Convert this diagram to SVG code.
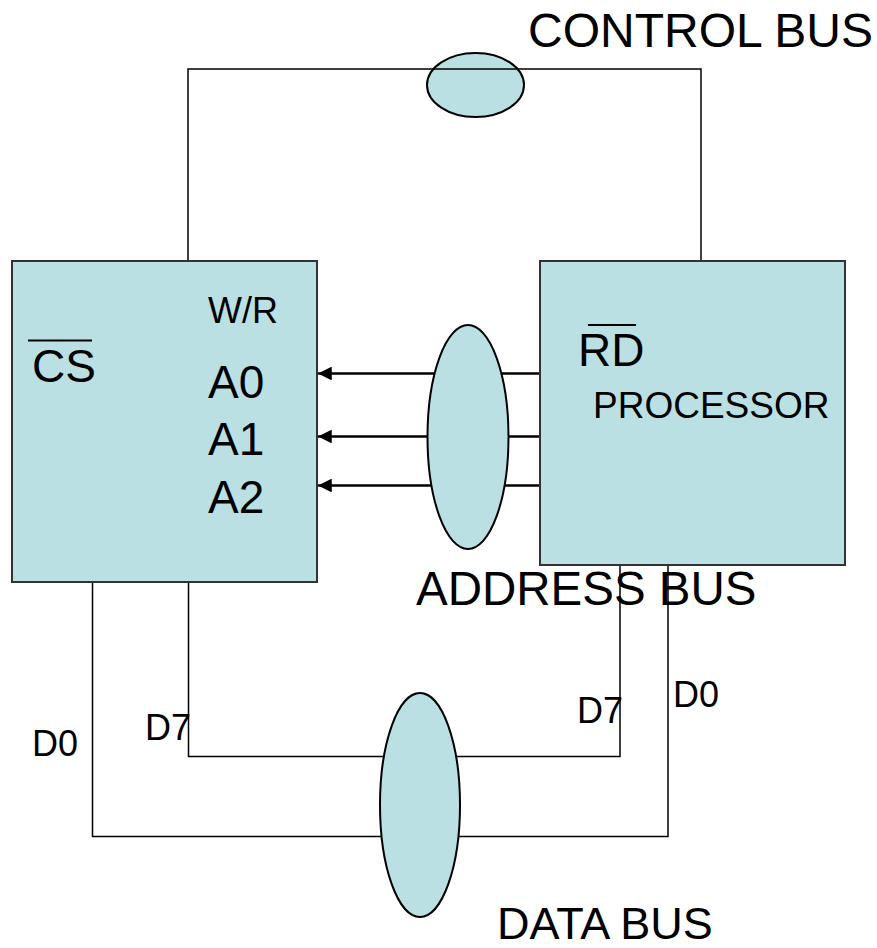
<svg xmlns="http://www.w3.org/2000/svg" width="877" height="948" viewBox="0 0 877 948">
<defs>
<style>
.box{fill:#BBE0E3;stroke:#333;stroke-width:2}
.bus{fill:#BBE0E3;stroke:#000;stroke-width:2}
.wire{fill:none;stroke:#000;stroke-width:1.5}
.addr{fill:none;stroke:#000;stroke-width:2.5}
.bar{stroke:#000;stroke-width:2}
text{font-family:"Liberation Sans",Arial,sans-serif;fill:#000}
</style>
<marker id="arrow" viewBox="0 0 10 10" refX="10" refY="5" markerWidth="7" markerHeight="5.5" markerUnits="strokeWidth" orient="auto">
<path d="M0,0 L10,5 L0,10 z" fill="#000"/>
</marker>
</defs>
<rect width="877" height="948" fill="#fff"/>
<g id="control-bus">
<ellipse class="bus" cx="475.5" cy="85" rx="48.5" ry="32"/>
<text x="528" y="47" font-size="48">CONTROL BUS</text>
</g>
<g id="connectors">
<polyline class="wire" points="188,261 188,69 701,69 701,261"/>
<polyline class="wire" points="92.5,582 92.5,836.5 668,836.5 668,564"/>
<polyline class="wire" points="188.5,582 188.5,756.5 620,756.5 620,564"/>
<line class="addr" x1="540" y1="373.5" x2="318" y2="373.5" marker-end="url(#arrow)"/>
<line class="addr" x1="540" y1="436.5" x2="318" y2="436.5" marker-end="url(#arrow)"/>
<line class="addr" x1="540" y1="485.5" x2="318" y2="485.5" marker-end="url(#arrow)"/>
</g>
<g id="memory">
<rect class="box" x="12" y="261" width="305" height="321"/>
<text x="208" y="323" font-size="36">W/R</text>
<text x="32" y="382" font-size="46">CS</text>
<line class="bar" x1="28" y1="340.5" x2="92" y2="340.5"/>
<text x="208" y="398" font-size="46">A0</text>
<text x="208" y="455" font-size="46">A1</text>
<text x="208" y="513" font-size="46">A2</text>
</g>
<g id="processor">
<rect class="box" x="540" y="261" width="305" height="304"/>
<text x="578" y="366" font-size="46">RD</text>
<line class="bar" x1="588" y1="325" x2="636" y2="325"/>
<text x="593" y="418" font-size="37">PROCESSOR</text>
</g>
<g id="address-bus">
<ellipse class="bus" cx="468" cy="437" rx="40.5" ry="112"/>
<text x="416" y="605" font-size="47.5">ADDRESS BUS</text>
</g>
<g id="data-bus">
<ellipse class="bus" cx="420" cy="805" rx="40" ry="112"/>
<text x="497" y="939" font-size="45">DATA BUS</text>
</g>
<g id="data-labels">
<text x="32" y="756" font-size="36">D0</text>
<text x="145" y="740" font-size="36">D7</text>
<text x="577" y="723" font-size="36">D7</text>
<text x="673" y="707" font-size="36">D0</text>
</g>
</svg>
